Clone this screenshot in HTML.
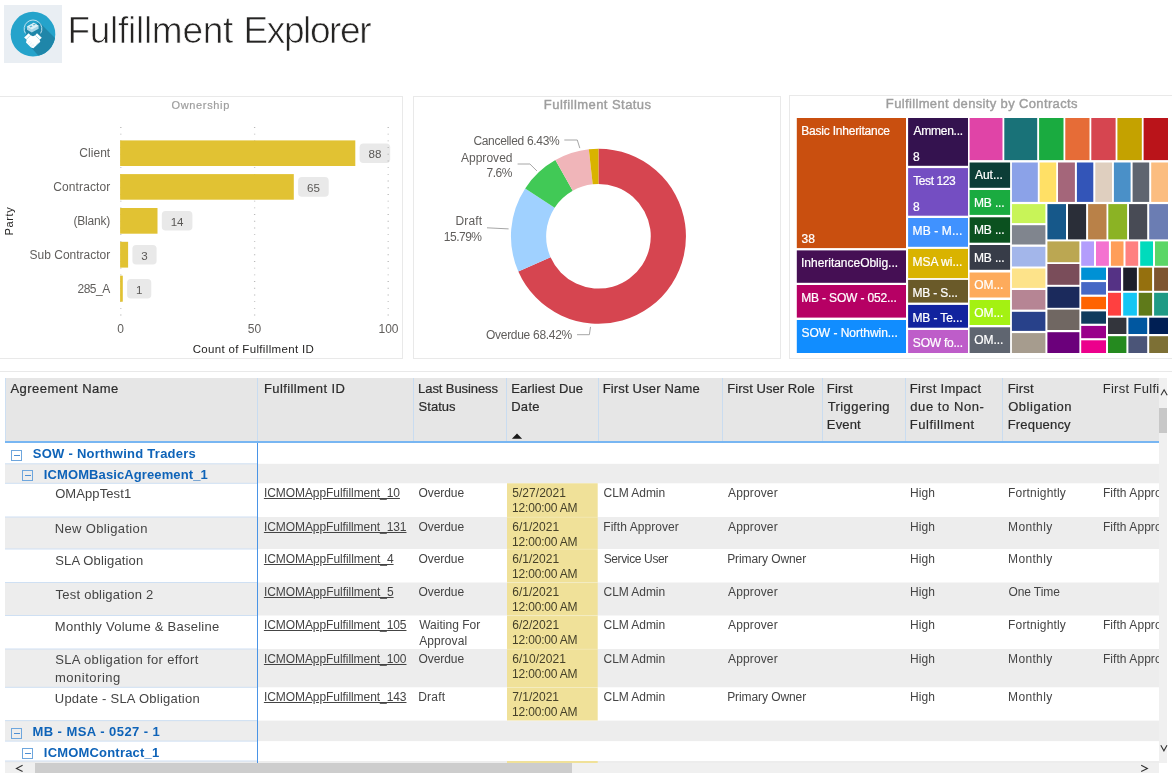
<!DOCTYPE html>
<html lang="en"><head><meta charset="utf-8"><title>Fulfillment Explorer</title>
<style>
html,body{margin:0;padding:0;background:#fff;}
body{width:1172px;height:776px;position:relative;overflow:hidden;font-family:"Liberation Sans", sans-serif;}
.t{position:absolute;white-space:nowrap;line-height:1;}
.abs{position:absolute;}
.panel{position:absolute;border:1px solid #e9e9e9;box-sizing:border-box;background:#fff;}
.clip{position:absolute;overflow:hidden;}
svg{position:absolute;left:0;top:0;}
u{text-decoration:underline;}
.ttl{-webkit-text-stroke:0.7px #fff;}
#app{position:absolute;left:0;top:0;width:1172px;height:776px;will-change:transform;}
</style></head><body><div id="app">
<div class="abs" style="left:4px;top:5px;width:58px;height:58px;background:#e9eef3;"></div>
<svg width="70" height="70" viewBox="0 0 70 70">
<defs><clipPath id="lc"><circle cx="33" cy="34.15" r="22.3"/></clipPath></defs>
<circle cx="33" cy="34.15" r="22.3" fill="#25a3cb"/>
<g clip-path="url(#lc)">
<path d="M39.5 22.5L75 58L60 80L28 44L24.5 37.5L27 33L25 29Z" fill="#1f86a9"/>
<path d="M24.9 30.5L27 29.7L31.8 32.6L38.6 28.8L38.6 25.7L41.4 26.5A8.5 8.5 0 0 1 24.9 30.5Z" fill="#1f86a9"/>
</g>
<path d="M25.4 33.4A8.85 8.85 0 1 1 40.6 33.4" fill="none" stroke="#cfe9f3" stroke-width="0.9"/>
<path d="M27 26.6L33.8 22.8L38.6 25.7L38.6 28.8L31.8 32.6L27 29.7Z" fill="#a9d7e8"/>
<path d="M27 26.6L33.8 22.8L38.6 25.7L31.8 29.5Z" fill="#dff1f7"/>
<path d="M29.3 26.5L31.2 25.4L32.6 26.3L30.7 27.4ZM32.5 24.7L34.4 23.7L35.8 24.6L33.9 25.6Z" fill="#5fb6d3"/>
<path d="M24.1 37.4L28.6 33.2L30.6 35.2L33 36.3L35.2 35.2L37 33.2L41.8 37.7L39.6 39.8L40.3 41.8L33.4 48.2L31 47.6L26 42.4L26.6 39.8Z" fill="#fff"/>
<path d="M26.2 39.6L30.4 35.4M39.8 39.8L35.4 35.4" stroke="#8fcde2" stroke-width="0.7" fill="none"/>
<path d="M27.6 43.6L30.2 41M29.2 45.2L31.8 42.6M30.8 46.8L33.4 44.2M36 45L38.4 42.6M34.4 46.6L33 45.2" stroke="#cfe6ef" stroke-width="0.6" fill="none"/>
</svg>

<span class="t ttl" style="font-size:37px;color:#252423;top:12.38px;letter-spacing:-0.274px;left:67.44px;">Fulfillment</span>
<span class="t ttl" style="font-size:37px;color:#252423;top:12.38px;letter-spacing:-1.398px;left:243.54px;">Explorer</span>
<div class="panel" style="left:-1px;top:96px;width:404px;height:263px;"></div>
<div class="panel" style="left:413px;top:96px;width:368px;height:263px;"></div>
<div class="panel" style="left:789px;top:95px;width:400px;height:264px;"></div>
<div class="abs" style="left:0;top:371px;width:1172px;height:1px;background:#e9e9e9;"></div>

<span class="t " style="font-size:11px;color:#9e9e9e;top:99.99px;letter-spacing:0.647px;left:171.55px;-webkit-text-stroke:0.2px #9e9e9e;">Ownership</span>
<svg width="410" height="365" viewBox="0 0 410 365"><rect x="359.6" y="143.4" width="30.6" height="19.6" rx="3.8" ry="3.8" fill="#e9e9e9"/><rect x="298.1" y="177.1" width="30.6" height="19.6" rx="3.8" ry="3.8" fill="#e9e9e9"/><rect x="161.8" y="211.0" width="30.6" height="19.6" rx="3.8" ry="3.8" fill="#e9e9e9"/><rect x="132.4" y="244.9" width="24.2" height="19.6" rx="3.8" ry="3.8" fill="#e9e9e9"/><rect x="127.1" y="278.9" width="24.2" height="19.6" rx="3.8" ry="3.8" fill="#e9e9e9"/><line x1="120.8" y1="127" x2="120.8" y2="317" stroke="#b9b9b9" stroke-width="1.3" stroke-dasharray="0.9 5.8"/><line x1="254.6" y1="127" x2="254.6" y2="317" stroke="#b9b9b9" stroke-width="1.3" stroke-dasharray="0.9 5.8"/><line x1="388.2" y1="127" x2="388.2" y2="317" stroke="#b9b9b9" stroke-width="1.3" stroke-dasharray="0.9 5.8"/><rect x="120.1" y="140.4" width="235.2" height="25.6" fill="#e1c233"/><rect x="120.1" y="174.1" width="173.7" height="25.6" fill="#e1c233"/><rect x="120.1" y="208.0" width="37.4" height="25.7" fill="#e1c233"/><rect x="120.1" y="241.8" width="8.0" height="25.8" fill="#e1c233"/><rect x="120.1" y="275.7" width="2.7" height="26.0" fill="#e1c233"/></svg>
<span class="t " style="font-size:12px;color:#605e5c;top:147.24px;letter-spacing:0.052px;right:1061.75px;">Client</span>
<span class="t " style="font-size:11.6px;color:#5a5856;top:148.08px;left:374.92px;transform:translateX(-50%);">88</span>
<span class="t " style="font-size:12px;color:#605e5c;top:180.94px;letter-spacing:0.097px;right:1061.70px;">Contractor</span>
<span class="t " style="font-size:11.6px;color:#5a5856;top:181.78px;left:313.45px;transform:translateX(-50%);">65</span>
<span class="t " style="font-size:12px;color:#605e5c;top:214.89px;letter-spacing:-0.217px;right:1062.02px;">(Blank)</span>
<span class="t " style="font-size:11.6px;color:#5a5856;top:215.73px;left:177.12px;transform:translateX(-50%);">14</span>
<span class="t " style="font-size:12px;color:#605e5c;top:248.74px;letter-spacing:-0.008px;right:1061.81px;">Sub Contractor</span>
<span class="t " style="font-size:11.6px;color:#5a5856;top:249.58px;left:144.52px;transform:translateX(-50%);">3</span>
<span class="t " style="font-size:12px;color:#605e5c;top:282.74px;letter-spacing:-0.481px;right:1062.28px;">285_A</span>
<span class="t " style="font-size:11.6px;color:#5a5856;top:283.58px;left:139.17px;transform:translateX(-50%);">1</span>
<span class="t " style="font-size:12px;color:#605e5c;top:323.14px;left:120.50px;transform:translateX(-50%);">0</span>
<span class="t " style="font-size:12px;color:#605e5c;top:323.14px;left:254.50px;transform:translateX(-50%);">50</span>
<span class="t " style="font-size:12px;color:#605e5c;top:323.14px;left:388.50px;transform:translateX(-50%);">100</span>
<span class="t " style="font-size:11.5px;color:#252423;top:343.57px;letter-spacing:0.336px;left:253.40px;transform:translateX(-50%);">Count of Fulfillment ID</span>
<span class="t" style="left:10.3px;top:221.4px;font-size:11.2px;letter-spacing:0.55px;color:#252423;transform:translate(-50%,-50%) rotate(-90deg);">Party</span>
<span class="t " style="font-size:13px;color:#9e9e9e;top:98.00px;letter-spacing:0.439px;left:543.86px;-webkit-text-stroke:0.4px #9e9e9e;">Fulfillment Status</span>
<svg width="1172" height="365" viewBox="0 0 1172 365"><path d="M598.45 148.80A87.5 87.5 0 1 1 518.32 271.45L550.56 257.31A52.3 52.3 0 1 0 598.45 184.00Z" fill="#d64550"/><path d="M518.32 271.45A87.5 87.5 0 0 1 525.20 188.44L554.67 207.69A52.3 52.3 0 0 0 550.56 257.31Z" fill="#a0d1ff"/><path d="M525.20 188.44A87.5 87.5 0 0 1 555.40 160.12L572.72 190.77A52.3 52.3 0 0 0 554.67 207.69Z" fill="#41c956"/><path d="M555.40 160.12A87.5 87.5 0 0 1 588.82 149.33L592.70 184.32A52.3 52.3 0 0 0 572.72 190.77Z" fill="#f0b5b9"/><path d="M588.82 149.33A87.5 87.5 0 0 1 598.45 148.80L598.45 184.00A52.3 52.3 0 0 0 592.70 184.32Z" fill="#d9b300"/><polyline points="564.3,140 577.3,140 579.8,148.1" fill="none" stroke="#a6a6a6" stroke-width="1"/><polyline points="517.6,164 529.9,164 536.9,170.9" fill="none" stroke="#a6a6a6" stroke-width="1"/><polyline points="487,227.8 508.6,228.9" fill="none" stroke="#a6a6a6" stroke-width="1"/><polyline points="577,334.7 589.4,334.7 590.5,326.9" fill="none" stroke="#a6a6a6" stroke-width="1"/></svg>
<span class="t " style="font-size:12px;color:#605e5c;top:134.84px;letter-spacing:-0.316px;left:473.40px;">Cancelled 6.43%</span>
<span class="t " style="font-size:12px;color:#605e5c;top:152.34px;letter-spacing:0.028px;right:659.47px;">Approved</span>
<span class="t " style="font-size:12px;color:#605e5c;top:167.14px;letter-spacing:-0.415px;right:659.91px;">7.6%</span>
<span class="t " style="font-size:12px;color:#605e5c;top:215.04px;letter-spacing:0.097px;right:689.90px;">Draft</span>
<span class="t " style="font-size:12px;color:#605e5c;top:230.94px;letter-spacing:-0.501px;right:690.50px;">15.79%</span>
<span class="t " style="font-size:12px;color:#605e5c;top:328.54px;letter-spacing:-0.290px;left:486.00px;">Overdue 68.42%</span>
<span class="t " style="font-size:13px;color:#9e9e9e;top:97.00px;letter-spacing:0.355px;left:885.86px;-webkit-text-stroke:0.4px #9e9e9e;">Fulfillment density by Contracts</span>
<svg width="1172" height="365" viewBox="0 0 1172 365" shape-rendering="auto"><rect x="796.8" y="118" width="109.2" height="130.1" fill="#c94f0f"/><rect x="796.8" y="250.4" width="109.2" height="32.4" fill="#450f54"/><rect x="796.8" y="285" width="109.2" height="32.6" fill="#b60064"/><rect x="796.8" y="320" width="109.2" height="33.0" fill="#118dff"/><rect x="908.1" y="118" width="59.9" height="47.8" fill="#34124f"/><rect x="908.1" y="168.1" width="59.9" height="47.6" fill="#744ec2"/><rect x="908.1" y="218" width="59.9" height="28.8" fill="#4092ff"/><rect x="908.1" y="248.9" width="59.9" height="29.2" fill="#d9b300"/><rect x="908.1" y="279.9" width="59.9" height="22.7" fill="#6a5a29"/><rect x="908.1" y="304.9" width="59.9" height="22.8" fill="#12239e"/><rect x="908.1" y="330" width="59.9" height="23.0" fill="#be5dc9"/><rect x="969.6" y="162.5" width="40.5" height="25.3" fill="#0c3d37"/><rect x="969.6" y="190" width="40.5" height="24.9" fill="#1aab40"/><rect x="969.6" y="217.3" width="40.5" height="25.4" fill="#0b511f"/><rect x="969.6" y="245" width="40.5" height="24.8" fill="#373c48"/><rect x="969.6" y="272.5" width="40.5" height="25.0" fill="#fdab5c"/><rect x="969.6" y="300" width="40.5" height="25.0" fill="#a4f112"/><rect x="969.6" y="327.3" width="40.5" height="25.7" fill="#5f6570"/><rect x="969.6" y="118" width="32.9" height="42.1" fill="#e044a7"/><rect x="1004.3" y="118" width="32.9" height="42.1" fill="#197278"/><rect x="1039.1" y="118" width="24.4" height="42.1" fill="#1aab40"/><rect x="1065.3" y="118" width="24.2" height="42.1" fill="#e66c37"/><rect x="1091.3" y="118" width="24.3" height="42.1" fill="#d64550"/><rect x="1117.4" y="118" width="24.4" height="42.1" fill="#c4a200"/><rect x="1143.6" y="118" width="24.4" height="42.1" fill="#ba141a"/><rect x="1011.9" y="162.5" width="25.9" height="39.4" fill="#8ba2e8"/><rect x="1039.6" y="162.5" width="16.6" height="39.4" fill="#ffe066"/><rect x="1058" y="162.5" width="16.9" height="39.4" fill="#a4667a"/><rect x="1076.9" y="162.5" width="16.4" height="39.4" fill="#3355b8"/><rect x="1095.3" y="162.5" width="16.7" height="39.4" fill="#dfcfbf"/><rect x="1113.9" y="162.5" width="16.7" height="39.4" fill="#4a90c8"/><rect x="1132.6" y="162.5" width="16.6" height="39.4" fill="#5f6570"/><rect x="1151.2" y="162.5" width="16.8" height="39.4" fill="#fbbd80"/><rect x="1047.4" y="204.1" width="18.6" height="35.3" fill="#16588a"/><rect x="1068" y="204.1" width="18.1" height="35.3" fill="#2a2e38"/><rect x="1088.1" y="204.1" width="18.4" height="35.3" fill="#b98148"/><rect x="1108.3" y="204.1" width="18.8" height="35.3" fill="#8bb324"/><rect x="1129" y="204.1" width="18.2" height="35.3" fill="#484b55"/><rect x="1149.2" y="204.1" width="18.8" height="35.3" fill="#6b7db3"/><rect x="1011.9" y="204.1" width="33.5" height="19.0" fill="#c8f458"/><rect x="1011.9" y="225.2" width="33.5" height="19.3" fill="#80858e"/><rect x="1011.9" y="246.8" width="33.5" height="19.7" fill="#a3b6ea"/><rect x="1011.9" y="268.5" width="33.5" height="19.4" fill="#fde38a"/><rect x="1011.9" y="290" width="33.5" height="19.6" fill="#b68594"/><rect x="1011.9" y="311.8" width="33.5" height="19.1" fill="#28418a"/><rect x="1011.9" y="333.1" width="33.5" height="19.9" fill="#a69c8e"/><rect x="1047.4" y="241.4" width="32.0" height="20.8" fill="#bba752"/><rect x="1047.4" y="264" width="32.0" height="20.8" fill="#7a4d5a"/><rect x="1047.4" y="286.8" width="32.0" height="21.0" fill="#1b2a5c"/><rect x="1047.4" y="309.6" width="32.0" height="20.4" fill="#706762"/><rect x="1047.4" y="332.2" width="32.0" height="20.8" fill="#6b007b"/><rect x="1081.2" y="241.4" width="12.8" height="24.4" fill="#b39dfc"/><rect x="1096" y="241.4" width="12.9" height="24.4" fill="#f472d0"/><rect x="1110.9" y="241.4" width="12.6" height="24.4" fill="#ff9e59"/><rect x="1125.5" y="241.4" width="12.7" height="24.4" fill="#ff8080"/><rect x="1140.2" y="241.4" width="12.8" height="24.4" fill="#00dbbc"/><rect x="1155" y="241.4" width="13.0" height="24.4" fill="#5bd667"/><rect x="1081.2" y="267.6" width="24.8" height="12.3" fill="#0091d5"/><rect x="1081.2" y="282.1" width="24.8" height="12.5" fill="#4668c5"/><rect x="1081.2" y="296.8" width="24.8" height="12.4" fill="#ff6300"/><rect x="1081.2" y="311.4" width="24.8" height="12.3" fill="#0f3b5d"/><rect x="1081.2" y="325.9" width="24.8" height="12.3" fill="#99008a"/><rect x="1081.2" y="340.3" width="24.8" height="12.7" fill="#ec008c"/><rect x="1108" y="267.6" width="13.0" height="23.2" fill="#553285"/><rect x="1123.2" y="267.6" width="13.7" height="23.2" fill="#1c1f2a"/><rect x="1138.7" y="267.6" width="13.4" height="23.2" fill="#95700e"/><rect x="1154.1" y="267.6" width="13.9" height="23.2" fill="#7d5530"/><rect x="1108" y="292.8" width="13.0" height="22.8" fill="#ff4040"/><rect x="1123.2" y="292.8" width="13.7" height="22.8" fill="#15c6f4"/><rect x="1138.7" y="292.8" width="13.4" height="22.8" fill="#5f7a1a"/><rect x="1154.1" y="292.8" width="13.9" height="22.8" fill="#1f9a85"/><rect x="1108" y="317.7" width="18.4" height="16.3" fill="#33353c"/><rect x="1128.4" y="317.7" width="18.8" height="16.3" fill="#0057a0"/><rect x="1149.2" y="317.7" width="18.8" height="16.3" fill="#001f54"/><rect x="1108" y="336.2" width="18.4" height="16.8" fill="#258a1f"/><rect x="1128.4" y="336.2" width="18.8" height="16.8" fill="#4b5578"/><rect x="1149.2" y="336.2" width="18.8" height="16.8" fill="#7d7035"/></svg>
<span class="t " style="font-size:12px;color:#fff;top:124.84px;letter-spacing:-0.210px;left:801.22px;-webkit-text-stroke:0.22px #fff;">Basic Inheritance</span>
<span class="t " style="font-size:12px;color:#fff;top:233.34px;left:801.62px;-webkit-text-stroke:0.22px #fff;">38</span>
<span class="t " style="font-size:12px;color:#fff;top:257.24px;letter-spacing:-0.021px;left:801.02px;-webkit-text-stroke:0.22px #fff;">InheritanceOblig...</span>
<span class="t " style="font-size:12px;color:#fff;top:291.84px;letter-spacing:-0.154px;left:801.20px;-webkit-text-stroke:0.22px #fff;">MB - SOW - 052...</span>
<span class="t " style="font-size:12px;color:#fff;top:326.84px;letter-spacing:-0.029px;left:801.56px;-webkit-text-stroke:0.22px #fff;">SOW - Northwin...</span>
<span class="t " style="font-size:12px;color:#fff;top:124.84px;letter-spacing:-0.232px;left:913.40px;-webkit-text-stroke:0.22px #fff;">Ammen...</span>
<span class="t " style="font-size:12px;color:#fff;top:151.04px;left:912.92px;-webkit-text-stroke:0.22px #fff;">8</span>
<span class="t " style="font-size:12px;color:#fff;top:174.94px;letter-spacing:-0.397px;left:913.16px;-webkit-text-stroke:0.22px #fff;">Test 123</span>
<span class="t " style="font-size:12px;color:#fff;top:200.94px;left:912.92px;-webkit-text-stroke:0.22px #fff;">8</span>
<span class="t " style="font-size:12px;color:#fff;top:224.84px;letter-spacing:0.136px;left:912.50px;-webkit-text-stroke:0.22px #fff;">MB - M...</span>
<span class="t " style="font-size:12px;color:#fff;top:255.74px;letter-spacing:-0.013px;left:912.50px;-webkit-text-stroke:0.22px #fff;">MSA wi...</span>
<span class="t " style="font-size:12px;color:#fff;top:286.74px;letter-spacing:-0.175px;left:912.50px;-webkit-text-stroke:0.22px #fff;">MB - S...</span>
<span class="t " style="font-size:12px;color:#fff;top:311.74px;letter-spacing:-0.123px;left:912.50px;-webkit-text-stroke:0.22px #fff;">MB - Te...</span>
<span class="t " style="font-size:12px;color:#fff;top:336.84px;letter-spacing:-0.235px;left:912.86px;-webkit-text-stroke:0.22px #fff;">SOW fo...</span>
<span class="t " style="font-size:12px;color:#fff;top:169.34px;letter-spacing:-0.003px;left:974.90px;-webkit-text-stroke:0.22px #fff;">Aut...</span>
<span class="t " style="font-size:12px;color:#fff;top:196.84px;letter-spacing:-0.141px;left:974.00px;-webkit-text-stroke:0.22px #fff;">MB ...</span>
<span class="t " style="font-size:12px;color:#fff;top:224.14px;letter-spacing:-0.141px;left:974.00px;-webkit-text-stroke:0.22px #fff;">MB ...</span>
<span class="t " style="font-size:12px;color:#fff;top:251.84px;letter-spacing:-0.141px;left:974.00px;-webkit-text-stroke:0.22px #fff;">MB ...</span>
<span class="t " style="font-size:12px;color:#fff;top:279.34px;letter-spacing:-0.069px;left:974.30px;-webkit-text-stroke:0.22px #fff;">OM...</span>
<span class="t " style="font-size:12px;color:#fff;top:306.84px;letter-spacing:-0.069px;left:974.30px;-webkit-text-stroke:0.22px #fff;">OM...</span>
<span class="t " style="font-size:12px;color:#fff;top:334.14px;letter-spacing:-0.069px;left:974.30px;-webkit-text-stroke:0.22px #fff;">OM...</span>
<div class="abs" style="left:5px;top:378px;width:1154px;height:63px;background:#e6e6e6;"></div>
<div class="abs" style="left:5px;top:378px;width:1px;height:63px;background:#cddff2;"></div>
<div class="abs" style="left:257px;top:378px;width:1px;height:63px;background:#c9dcf0;"></div>
<div class="abs" style="left:413px;top:378px;width:1px;height:63px;background:#c9dcf0;"></div>
<div class="abs" style="left:506px;top:378px;width:1px;height:63px;background:#c9dcf0;"></div>
<div class="abs" style="left:598px;top:378px;width:1px;height:63px;background:#c9dcf0;"></div>
<div class="abs" style="left:722px;top:378px;width:1px;height:63px;background:#c9dcf0;"></div>
<div class="abs" style="left:822px;top:378px;width:1px;height:63px;background:#c9dcf0;"></div>
<div class="abs" style="left:905px;top:378px;width:1px;height:63px;background:#c9dcf0;"></div>
<div class="abs" style="left:1002px;top:378px;width:1px;height:63px;background:#c9dcf0;"></div>
<div class="abs" style="left:5px;top:441px;width:1154px;height:2px;background:#78b6f2;"></div>
<span class="t " style="font-size:13px;color:#2b2b2b;top:381.70px;letter-spacing:0.451px;left:10.50px;-webkit-text-stroke:0.2px #2b2b2b;">Agreement Name</span>
<span class="t " style="font-size:13px;color:#2b2b2b;top:381.70px;letter-spacing:0.381px;left:264.06px;-webkit-text-stroke:0.2px #2b2b2b;">Fulfillment ID</span>
<span class="t " style="font-size:13px;color:#2b2b2b;top:381.70px;letter-spacing:-0.088px;left:418.12px;-webkit-text-stroke:0.2px #2b2b2b;">Last Business</span>
<span class="t " style="font-size:13px;color:#2b2b2b;top:399.70px;letter-spacing:0.040px;left:418.52px;-webkit-text-stroke:0.2px #2b2b2b;">Status</span>
<span class="t " style="font-size:13px;color:#2b2b2b;top:381.70px;letter-spacing:0.099px;left:511.16px;-webkit-text-stroke:0.2px #2b2b2b;">Earliest Due</span>
<span class="t " style="font-size:13px;color:#2b2b2b;top:399.70px;letter-spacing:0.308px;left:511.16px;-webkit-text-stroke:0.2px #2b2b2b;">Date</span>
<span class="t " style="font-size:13px;color:#2b2b2b;top:381.70px;letter-spacing:0.172px;left:602.66px;-webkit-text-stroke:0.2px #2b2b2b;">First User Name</span>
<span class="t " style="font-size:13px;color:#2b2b2b;top:381.70px;letter-spacing:0.061px;left:727.26px;-webkit-text-stroke:0.2px #2b2b2b;">First User Role</span>
<span class="t " style="font-size:13px;color:#2b2b2b;top:381.70px;letter-spacing:0.144px;left:826.86px;-webkit-text-stroke:0.2px #2b2b2b;">First</span>
<span class="t " style="font-size:13px;color:#2b2b2b;top:399.70px;letter-spacing:0.435px;left:827.64px;-webkit-text-stroke:0.2px #2b2b2b;">Triggering</span>
<span class="t " style="font-size:13px;color:#2b2b2b;top:417.70px;letter-spacing:0.150px;left:826.86px;-webkit-text-stroke:0.2px #2b2b2b;">Event</span>
<span class="t " style="font-size:13px;color:#2b2b2b;top:381.70px;letter-spacing:0.308px;left:909.76px;-webkit-text-stroke:0.2px #2b2b2b;">First Impact</span>
<span class="t " style="font-size:13px;color:#2b2b2b;top:399.70px;letter-spacing:0.551px;left:910.35px;-webkit-text-stroke:0.2px #2b2b2b;">due to Non-</span>
<span class="t " style="font-size:13px;color:#2b2b2b;top:417.70px;letter-spacing:0.523px;left:909.76px;-webkit-text-stroke:0.2px #2b2b2b;">Fulfillment</span>
<span class="t " style="font-size:13px;color:#2b2b2b;top:381.70px;letter-spacing:0.144px;left:1007.76px;-webkit-text-stroke:0.2px #2b2b2b;">First</span>
<span class="t " style="font-size:13px;color:#2b2b2b;top:399.70px;letter-spacing:0.545px;left:1008.15px;-webkit-text-stroke:0.2px #2b2b2b;">Obligation</span>
<span class="t " style="font-size:13px;color:#2b2b2b;top:417.70px;letter-spacing:0.175px;left:1007.76px;-webkit-text-stroke:0.2px #2b2b2b;">Frequency</span>
<div class="clip" style="left:1098px;top:378px;width:61px;height:63px;"><span class="t " style="font-size:13px;color:#2b2b2b;top:3.70px;letter-spacing:0.316px;left:4.66px;">First Fulfillment</span></div>
<svg width="1172" height="776" viewBox="0 0 1172 776"><path d="M511.9 438.7L517 433.6L522.1 438.7Z" fill="#1a1a1a"/></svg>
<svg width="1172" height="776" viewBox="0 0 1172 776"><rect x="5" y="463.8" width="1154" height="19.5" fill="#ededed"/><rect x="5" y="720.6" width="1154" height="20.5" fill="#ededed"/><rect x="5" y="517" width="1154" height="32.0" fill="#ededed"/><rect x="5" y="582.5" width="1154" height="33.0" fill="#ededed"/><rect x="5" y="649" width="1154" height="38.3" fill="#ededed"/><rect x="5" y="761" width="1154" height="2.0" fill="#ededed"/><rect x="507" y="483.3" width="90.7" height="33.7" fill="#f0e199"/><rect x="507" y="517" width="90.7" height="32.0" fill="#f0e199"/><rect x="507" y="549" width="90.7" height="33.5" fill="#f0e199"/><rect x="507" y="582.5" width="90.7" height="33.0" fill="#f0e199"/><rect x="507" y="615.5" width="90.7" height="33.5" fill="#f0e199"/><rect x="507" y="649" width="90.7" height="38.3" fill="#f0e199"/><rect x="507" y="687.3" width="90.7" height="33.3" fill="#f0e199"/><rect x="507" y="761" width="90.7" height="2.0" fill="#f0e199"/><rect x="5" y="463.3" width="252" height="1" fill="#cfe0f3"/><rect x="5" y="482.8" width="252" height="1" fill="#cfe0f3"/><rect x="5" y="740.6" width="252" height="1" fill="#cfe0f3"/><rect x="5" y="760.5" width="252" height="1" fill="#cfe0f3"/><rect x="5" y="516.5" width="252" height="1" fill="#cfe0f3"/><rect x="5" y="548.5" width="252" height="1" fill="#cfe0f3"/><rect x="5" y="582.0" width="252" height="1" fill="#cfe0f3"/><rect x="5" y="615.0" width="252" height="1" fill="#cfe0f3"/><rect x="5" y="648.5" width="252" height="1" fill="#cfe0f3"/><rect x="5" y="686.8" width="252" height="1" fill="#cfe0f3"/><rect x="5" y="720.1" width="252" height="1" fill="#cfe0f3"/><rect x="507" y="516.8" width="90.7" height="0.8" fill="#fff" fill-opacity="0.3"/><rect x="507" y="548.8" width="90.7" height="0.8" fill="#fff" fill-opacity="0.3"/><rect x="507" y="582.3" width="90.7" height="0.8" fill="#fff" fill-opacity="0.3"/><rect x="507" y="615.3" width="90.7" height="0.8" fill="#fff" fill-opacity="0.3"/><rect x="507" y="648.8" width="90.7" height="0.8" fill="#fff" fill-opacity="0.3"/><rect x="507" y="687.1" width="90.7" height="0.8" fill="#fff" fill-opacity="0.3"/><rect x="507" y="720.4" width="90.7" height="0.8" fill="#fff" fill-opacity="0.3"/></svg>
<div class="abs" style="left:11px;top:450px;width:11px;height:11px;box-sizing:border-box;border:1px solid #6ea6dd;"></div>
<div class="abs" style="left:13.5px;top:455px;width:6px;height:1px;background:#4d8fd3;"></div>
<span class="t " style="font-size:13px;color:#0e63b8;top:446.80px;font-weight:700;letter-spacing:0.254px;left:32.81px;">SOW - Northwind Traders</span>
<div class="abs" style="left:22px;top:470px;width:11px;height:11px;box-sizing:border-box;border:1px solid #6ea6dd;"></div>
<div class="abs" style="left:24.5px;top:475px;width:6px;height:1px;background:#4d8fd3;"></div>
<span class="t " style="font-size:13px;color:#0e63b8;top:467.60px;font-weight:700;letter-spacing:0.103px;left:43.83px;">ICMOMBasicAgreement_1</span>
<div class="abs" style="left:11px;top:728px;width:11px;height:11px;box-sizing:border-box;border:1px solid #6ea6dd;"></div>
<div class="abs" style="left:13.5px;top:733px;width:6px;height:1px;background:#4d8fd3;"></div>
<span class="t " style="font-size:13px;color:#0e63b8;top:724.90px;font-weight:700;letter-spacing:0.445px;left:32.42px;">MB - MSA - 0527 - 1</span>
<div class="abs" style="left:22px;top:748px;width:11px;height:11px;box-sizing:border-box;border:1px solid #6ea6dd;"></div>
<div class="abs" style="left:24.5px;top:753px;width:6px;height:1px;background:#4d8fd3;"></div>
<span class="t " style="font-size:13px;color:#0e63b8;top:745.60px;font-weight:700;letter-spacing:0.188px;left:43.83px;">ICMOMContract_1</span>
<span class="t " style="font-size:13px;color:#444;top:486.80px;letter-spacing:0.094px;left:55.15px;">OMAppTest1</span>
<span class="t " style="font-size:12px;color:#444;top:487.14px;letter-spacing:-0.063px;left:263.90px;"><u>ICMOMAppFulfillment_10</u></span>
<span class="t " style="font-size:12px;color:#444;top:487.14px;letter-spacing:-0.090px;left:418.60px;">Overdue</span>
<span class="t " style="font-size:12px;color:#454029;top:487.14px;letter-spacing:0.034px;left:512.28px;">5/27/2021</span>
<span class="t " style="font-size:12px;color:#454029;top:502.04px;letter-spacing:-0.199px;left:512.10px;">12:00:00 AM</span>
<span class="t " style="font-size:12px;color:#444;top:487.14px;letter-spacing:-0.059px;left:603.60px;">CLM Admin</span>
<span class="t " style="font-size:12px;color:#444;top:487.14px;letter-spacing:0.125px;left:728.10px;">Approver</span>
<span class="t " style="font-size:12px;color:#444;top:487.14px;letter-spacing:0.078px;left:910.04px;">High</span>
<span class="t " style="font-size:12px;color:#444;top:487.14px;letter-spacing:0.179px;left:1008.04px;">Fortnightly</span>
<div class="clip" style="left:1098px;top:483px;width:61px;height:34px;"><span class="t " style="font-size:12px;color:#444;top:4.14px;letter-spacing:0.064px;left:4.94px;">Fifth Approver</span></div>
<span class="t " style="font-size:13px;color:#444;top:521.80px;letter-spacing:0.339px;left:54.82px;">New Obligation</span>
<span class="t " style="font-size:12px;color:#444;top:520.84px;letter-spacing:-0.064px;left:263.90px;"><u>ICMOMAppFulfillment_131</u></span>
<span class="t " style="font-size:12px;color:#444;top:520.84px;letter-spacing:-0.090px;left:418.60px;">Overdue</span>
<span class="t " style="font-size:12px;color:#454029;top:520.84px;letter-spacing:0.023px;left:512.22px;">6/1/2021</span>
<span class="t " style="font-size:12px;color:#454029;top:535.84px;letter-spacing:-0.199px;left:512.10px;">12:00:00 AM</span>
<span class="t " style="font-size:12px;color:#444;top:520.84px;letter-spacing:0.064px;left:603.24px;">Fifth Approver</span>
<span class="t " style="font-size:12px;color:#444;top:520.84px;letter-spacing:0.125px;left:728.10px;">Approver</span>
<span class="t " style="font-size:12px;color:#444;top:520.84px;letter-spacing:0.078px;left:910.04px;">High</span>
<span class="t " style="font-size:12px;color:#444;top:520.84px;letter-spacing:0.338px;left:1008.10px;">Monthly</span>
<div class="clip" style="left:1098px;top:517px;width:61px;height:32px;"><span class="t " style="font-size:12px;color:#444;top:3.84px;letter-spacing:0.064px;left:4.94px;">Fifth Approver</span></div>
<span class="t " style="font-size:13px;color:#444;top:554.00px;letter-spacing:0.156px;left:55.21px;">SLA Obligation</span>
<span class="t " style="font-size:12px;color:#444;top:552.84px;letter-spacing:-0.049px;left:263.90px;"><u>ICMOMAppFulfillment_4</u></span>
<span class="t " style="font-size:12px;color:#444;top:552.84px;letter-spacing:-0.090px;left:418.60px;">Overdue</span>
<span class="t " style="font-size:12px;color:#454029;top:552.84px;letter-spacing:0.023px;left:512.22px;">6/1/2021</span>
<span class="t " style="font-size:12px;color:#454029;top:567.84px;letter-spacing:-0.199px;left:512.10px;">12:00:00 AM</span>
<span class="t " style="font-size:12px;color:#444;top:552.84px;letter-spacing:-0.366px;left:603.66px;">Service User</span>
<span class="t " style="font-size:12px;color:#444;top:552.84px;letter-spacing:-0.078px;left:727.14px;">Primary Owner</span>
<span class="t " style="font-size:12px;color:#444;top:552.84px;letter-spacing:0.078px;left:910.04px;">High</span>
<span class="t " style="font-size:12px;color:#444;top:552.84px;letter-spacing:0.338px;left:1008.10px;">Monthly</span>
<span class="t " style="font-size:13px;color:#444;top:587.70px;letter-spacing:0.238px;left:55.54px;">Test obligation 2</span>
<span class="t " style="font-size:12px;color:#444;top:586.44px;letter-spacing:-0.049px;left:263.90px;"><u>ICMOMAppFulfillment_5</u></span>
<span class="t " style="font-size:12px;color:#444;top:586.44px;letter-spacing:-0.090px;left:418.60px;">Overdue</span>
<span class="t " style="font-size:12px;color:#454029;top:586.44px;letter-spacing:0.023px;left:512.22px;">6/1/2021</span>
<span class="t " style="font-size:12px;color:#454029;top:601.44px;letter-spacing:-0.199px;left:512.10px;">12:00:00 AM</span>
<span class="t " style="font-size:12px;color:#444;top:586.44px;letter-spacing:-0.059px;left:603.60px;">CLM Admin</span>
<span class="t " style="font-size:12px;color:#444;top:586.44px;letter-spacing:0.125px;left:728.10px;">Approver</span>
<span class="t " style="font-size:12px;color:#444;top:586.44px;letter-spacing:0.078px;left:910.04px;">High</span>
<span class="t " style="font-size:12px;color:#444;top:586.44px;letter-spacing:-0.079px;left:1008.40px;">One Time</span>
<span class="t " style="font-size:13px;color:#444;top:619.80px;letter-spacing:0.257px;left:54.82px;">Monthly Volume &amp; Baseline</span>
<span class="t " style="font-size:12px;color:#444;top:618.64px;letter-spacing:-0.064px;left:263.90px;"><u>ICMOMAppFulfillment_105</u></span>
<span class="t " style="font-size:12px;color:#444;top:618.64px;letter-spacing:0.009px;left:419.20px;">Waiting For</span>
<span class="t " style="font-size:12px;color:#444;top:634.64px;letter-spacing:0.078px;left:419.20px;">Approval</span>
<span class="t " style="font-size:12px;color:#454029;top:618.64px;letter-spacing:0.023px;left:512.22px;">6/2/2021</span>
<span class="t " style="font-size:12px;color:#454029;top:634.34px;letter-spacing:-0.199px;left:512.10px;">12:00:00 AM</span>
<span class="t " style="font-size:12px;color:#444;top:618.64px;letter-spacing:-0.059px;left:603.60px;">CLM Admin</span>
<span class="t " style="font-size:12px;color:#444;top:618.64px;letter-spacing:0.125px;left:728.10px;">Approver</span>
<span class="t " style="font-size:12px;color:#444;top:618.64px;letter-spacing:0.078px;left:910.04px;">High</span>
<span class="t " style="font-size:12px;color:#444;top:618.64px;letter-spacing:0.179px;left:1008.04px;">Fortnightly</span>
<div class="clip" style="left:1098px;top:615px;width:61px;height:34px;"><span class="t " style="font-size:12px;color:#444;top:3.64px;letter-spacing:0.064px;left:4.94px;">Fifth Approver</span></div>
<span class="t " style="font-size:13px;color:#444;top:652.70px;letter-spacing:0.339px;left:55.21px;">SLA obligation for effort</span>
<span class="t " style="font-size:13px;color:#444;top:670.70px;letter-spacing:0.520px;left:54.95px;">monitoring</span>
<span class="t " style="font-size:12px;color:#444;top:652.54px;letter-spacing:-0.064px;left:263.90px;"><u>ICMOMAppFulfillment_100</u></span>
<span class="t " style="font-size:12px;color:#444;top:652.54px;letter-spacing:-0.090px;left:418.60px;">Overdue</span>
<span class="t " style="font-size:12px;color:#454029;top:652.54px;letter-spacing:0.034px;left:512.22px;">6/10/2021</span>
<span class="t " style="font-size:12px;color:#454029;top:667.54px;letter-spacing:-0.199px;left:512.10px;">12:00:00 AM</span>
<span class="t " style="font-size:12px;color:#444;top:652.54px;letter-spacing:-0.059px;left:603.60px;">CLM Admin</span>
<span class="t " style="font-size:12px;color:#444;top:652.54px;letter-spacing:0.125px;left:728.10px;">Approver</span>
<span class="t " style="font-size:12px;color:#444;top:652.54px;letter-spacing:0.078px;left:910.04px;">High</span>
<span class="t " style="font-size:12px;color:#444;top:652.54px;letter-spacing:0.338px;left:1008.10px;">Monthly</span>
<div class="clip" style="left:1098px;top:649px;width:61px;height:39px;"><span class="t " style="font-size:12px;color:#444;top:3.54px;letter-spacing:0.064px;left:4.94px;">Fifth Approver</span></div>
<span class="t " style="font-size:13px;color:#444;top:691.80px;letter-spacing:0.249px;left:54.76px;">Update - SLA Obligation</span>
<span class="t " style="font-size:12px;color:#444;top:690.74px;letter-spacing:-0.064px;left:263.90px;"><u>ICMOMAppFulfillment_143</u></span>
<span class="t " style="font-size:12px;color:#444;top:690.74px;letter-spacing:0.197px;left:418.24px;">Draft</span>
<span class="t " style="font-size:12px;color:#454029;top:690.74px;letter-spacing:0.023px;left:512.16px;">7/1/2021</span>
<span class="t " style="font-size:12px;color:#454029;top:705.54px;letter-spacing:-0.199px;left:512.10px;">12:00:00 AM</span>
<span class="t " style="font-size:12px;color:#444;top:690.74px;letter-spacing:-0.059px;left:603.60px;">CLM Admin</span>
<span class="t " style="font-size:12px;color:#444;top:690.74px;letter-spacing:-0.078px;left:727.14px;">Primary Owner</span>
<span class="t " style="font-size:12px;color:#444;top:690.74px;letter-spacing:0.078px;left:910.04px;">High</span>
<span class="t " style="font-size:12px;color:#444;top:690.74px;letter-spacing:0.338px;left:1008.10px;">Monthly</span>
<div class="abs" style="left:257px;top:443px;width:1px;height:320px;background:#4a94e6;"></div>
<div class="abs" style="left:1159px;top:378px;width:8px;height:385px;background:#f0f0f0;"></div>
<div class="abs" style="left:1167px;top:378px;width:5px;height:398px;background:#fff;"></div>
<div class="abs" style="left:1159px;top:408px;width:8px;height:25px;background:#c8c8c8;"></div>
<div class="abs" style="left:5px;top:763px;width:1154px;height:10px;background:#f0f0f0;"></div>
<div class="abs" style="left:35px;top:763px;width:537px;height:10px;background:#cdcdcd;"></div>
<svg width="1172" height="776" viewBox="0 0 1172 776" fill="none" stroke="#333" stroke-width="1.1"><polyline points="1161,395.2 1164.1,389.8 1167.2,395.2"/><polyline points="1160.8,745.3 1163.9,750.8 1167,745.3"/><polyline points="22.6,765.2 16.4,768.4 22.6,771.6"/><polyline points="1141.2,765.2 1147.4,768.4 1141.2,771.6"/></svg>
</div></body></html>
